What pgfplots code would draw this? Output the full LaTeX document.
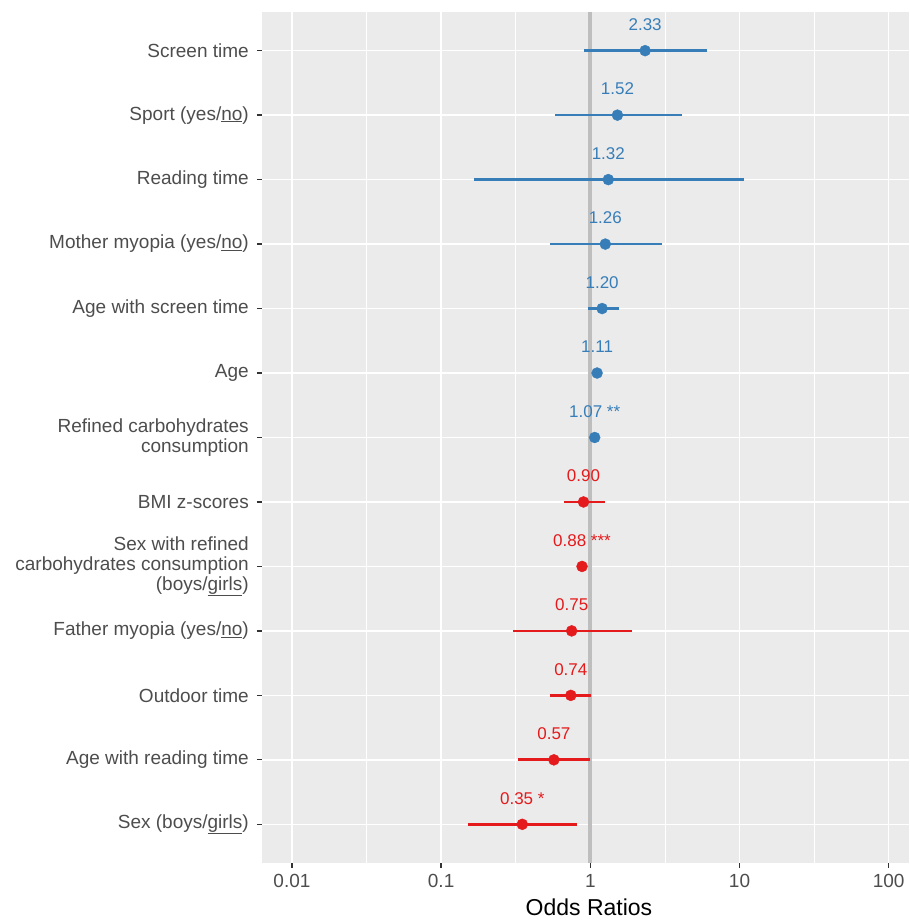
\documentclass[border=0pt]{standalone}
\usepackage{fontspec}
\setmainfont{Liberation Sans}
\usepackage{pgfplots}
\pgfplotsset{compat=1.18}
\usepackage{pgfplotstable}
\definecolor{panel}{HTML}{EBEBEB}
\definecolor{g30}{HTML}{4D4D4D}
\definecolor{g20}{HTML}{333333}
\definecolor{cblue}{HTML}{377EB8}
\definecolor{cred}{HTML}{E41A1C}
\definecolor{refline}{HTML}{BEBEBE}

% odds ratios: estimate, row, label
\pgfplotstableread{
or y lab
2.33 13 {2.33}
1.52 12 {1.52}
1.32 11 {1.32}
1.26 10 {1.26}
1.20 9 {1.20}
1.11 8 {1.11}
1.07 7 {1.07 **}
}\bluept
\pgfplotstableread{
or y lab
0.90 6 {0.90}
0.88 5 {0.88 ***}
0.75 4 {0.75}
0.74 3 {0.74}
0.57 2 {0.57}
0.35 1 {0.35 *}
}\redpt
% confidence intervals (lower, upper), one segment per row
\pgfplotstableread{
x y
0.91 13
6.1 13
nan nan
0.58 12
4.09 12
nan nan
0.166 11
10.7 11
nan nan
0.54 10
3.0 10
nan nan
0.96 9
1.55 9
nan nan
1.03 8
1.20 8
nan nan
1.05 7
1.09 7
}\blueci
\pgfplotstableread{
x y
0.667 6
1.25 6
nan nan
0.86 5
0.90 5
nan nan
0.305 4
1.90 4
nan nan
0.54 3
1.01 3
nan nan
0.33 2
1.00 2
nan nan
0.152 1
0.81 1
}\redci

\begin{document}
\begin{tikzpicture}
\begin{axis}[
  scale only axis, width=647pt, height=851pt,
  xmode=log, log basis x=10,
  xmin=0.00630, xmax=136.8, ymin=0.4, ymax=13.6,
  axis background/.style={fill=panel},
  axis line style={draw=none},
  xtick={0.01,0.1,1,10,100},
  xticklabels={0.01,0.1,1,10,100},
  minor xtick={0.0316228,0.316228,3.16228,31.6228},
  ytick={1,2,3,4,5,6,7,8,9,10,11,12,13},
  yticklabels={
    {Sex (boys/\underline{girls})},
    {Age with reading time},
    {Outdoor time},
    {Father myopia (yes/\underline{no})},
    {Sex with refined\\carbohydrates consumption\\(boys/\underline{girls})},
    {BMI z-scores},
    {Refined carbohydrates\\consumption},
    {Age},
    {Age with screen time},
    {Mother myopia (yes/\underline{no})},
    {Reading time},
    {Sport (yes/\underline{no})},
    {Screen time}},
  xmajorgrids, xminorgrids, ymajorgrids,
  major grid style={white, line width=1.4pt},
  minor grid style={white, line width=0.7pt},
  tick align=outside, major tick length=5pt, minor tick length=0pt,
  xtick pos=bottom, ytick pos=left,
  tick style={g20, line width=1.3pt},
  yticklabel style={font=\fontsize{19}{20}\selectfont, text=g30, align=right, anchor=east, inner sep=0pt, xshift=-8pt},
  xticklabel style={font=\fontsize{19}{20}\selectfont, text=g30, anchor=north, inner sep=0pt, yshift=-6pt},
  xlabel={Odds Ratios},
  xlabel style={font=\fontsize{23}{24}\selectfont, text=black, at={(axis description cs:0.5054,0)}, anchor=center, inner sep=0pt, yshift=-44.5pt},
  unbounded coords=jump,
]
\addplot[refline, line width=4pt, forget plot] coordinates {(1,0.4) (1,13.6)};
\addplot[cblue, line width=2.7pt, forget plot] table[x=x, y=y] {\blueci};
\addplot[cred, line width=2.7pt, forget plot] table[x=x, y=y] {\redci};
\addplot[only marks, mark=*, mark size=5.5pt, cblue, point meta=explicit symbolic,
  nodes near coords,
  nodes near coords style={font=\fontsize{17}{18}\selectfont, text=cblue, anchor=center, inner sep=0pt, yshift=26pt}]
  table[x=or, y=y, meta=lab] {\bluept};
\addplot[only marks, mark=*, mark size=5.5pt, cred, point meta=explicit symbolic,
  nodes near coords,
  nodes near coords style={font=\fontsize{17}{18}\selectfont, text=cred, anchor=center, inner sep=0pt, yshift=26pt}]
  table[x=or, y=y, meta=lab] {\redpt};
\end{axis}
\pgfresetboundingbox
\path[use as bounding box] ([shift={(-262pt,-57pt)}]current axis.south west) rectangle ([shift={(0pt,12pt)}]current axis.north east);
\end{tikzpicture}
\end{document}
